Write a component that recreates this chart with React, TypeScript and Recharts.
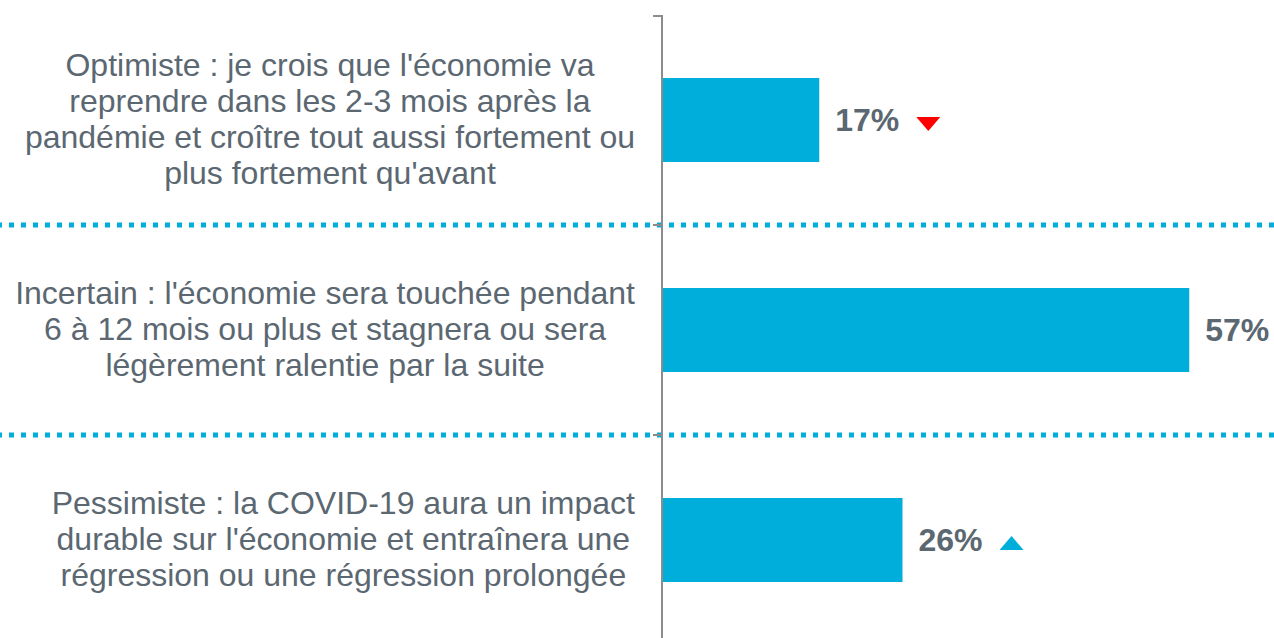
import React from 'react';
import { BarChart, Bar, XAxis, YAxis, CartesianGrid, LabelList } from 'recharts';

const categories = [
  "Optimiste : je crois que l'économie va|reprendre dans les 2-3 mois après la|pandémie et croître tout aussi fortement ou|plus fortement qu'avant",
  "Incertain : l'économie sera touchée pendant|6 à 12 mois ou plus et stagnera ou sera|légèrement ralentie par la suite",
  "Pessimiste : la COVID-19 aura un impact|durable sur l'économie et entraînera une|régression ou une régression prolongée",
];
const values = [17, 57, 26];
const trends = ['down', null, 'up'];

const data = categories.map((name, i) => ({ name, value: values[i], trend: trends[i] }));

const BLUE = '#00AEDB';
const TEXT = '#5b6771';
const FONT = '"Liberation Sans", Arial, sans-serif';
const FS = 32;

let ctx: CanvasRenderingContext2D | null = null;
function measure(s: string, bold = false) {
  if (!ctx) ctx = document.createElement('canvas').getContext('2d');
  if (!ctx) return s.length * FS * 0.5;
  ctx.font = `${bold ? 'bold ' : ''}${FS}px "Liberation Sans", Arial, sans-serif`;
  return ctx.measureText(s).width;
}

function CategoryTick(props: any) {
  const { x, y, payload } = props;
  const lines = String(payload.value).split('|');
  const lh = 36;
  const start = y - ((lines.length - 1) * lh) / 2 - 1;
  const maxW = Math.max(...lines.map((l) => measure(l)));
  const cx = x - maxW / 2;
  return (
    <text x={cx} y={start} textAnchor="middle" fill={TEXT} fontSize={FS} fontFamily={FONT} dominantBaseline="central">
      {lines.map((l, i) => (
        <tspan key={i} x={cx} y={start + i * lh} dominantBaseline="central">
          {l}
        </tspan>
      ))}
    </text>
  );
}

function ValueLabel(props: any) {
  const { x, y, width, height, value, index } = props;
  const tx = x + width + 16;
  const cy = y + height / 2;
  const trend = data[index].trend;
  const triX = tx + measure(`${value}%`, true) + 17;
  return (
    <g>
      <text x={tx} y={cy} fill={TEXT} fontSize={FS} fontWeight="bold" fontFamily={FONT} dominantBaseline="central">
        {value}%
      </text>
      {trend === 'down' && (
        <polygon points={`${triX},${cy - 3} ${triX + 24},${cy - 3} ${triX + 12},${cy + 11}`} fill="#FF0000" />
      )}
      {trend === 'up' && (
        <polygon points={`${triX},${cy + 10} ${triX + 24},${cy + 10} ${triX + 12},${cy - 4}`} fill={BLUE} />
      )}
    </g>
  );
}

export default function App() {
  return (
    <div style={{ position: 'absolute', left: 0, top: 0, width: 1274, height: 638, overflow: 'hidden', background: '#fff' }}>
      <BarChart
        width={1274}
        height={645}
        data={data}
        layout="vertical"
        margin={{ top: 15, right: 57, bottom: 0, left: 0 }}
        barCategoryGap={63}
      >
        <CartesianGrid
          vertical={false}
          x={0}
          width={1274}
          stroke={BLUE}
          strokeWidth={5}
          strokeDasharray="5 7"
          strokeDashoffset={3}
          horizontalCoordinatesGenerator={({ offset }: any) => [
            offset.top + offset.height / 3,
            offset.top + (2 * offset.height) / 3,
          ]}
        />
        <CartesianGrid
          vertical={false}
          x={653}
          width={9}
          stroke="#8c8c8c"
          strokeWidth={2}
          horizontalCoordinatesGenerator={({ offset }: any) => [
            offset.top + 1,
            offset.top + offset.height / 3,
            offset.top + (2 * offset.height) / 3,
          ]}
        />
        <XAxis type="number" domain={[0, 60]} hide />
        <YAxis
          type="category"
          dataKey="name"
          width={662}
          axisLine={{ stroke: '#8c8c8c', strokeWidth: 2 }}
          tickLine={false}
          tickMargin={21}
          tick={<CategoryTick />}
          interval={0}
        />
        <Bar dataKey="value" fill={BLUE} barSize={84} isAnimationActive={false}>
          <LabelList dataKey="value" content={<ValueLabel />} />
        </Bar>
      </BarChart>
    </div>
  );
}
